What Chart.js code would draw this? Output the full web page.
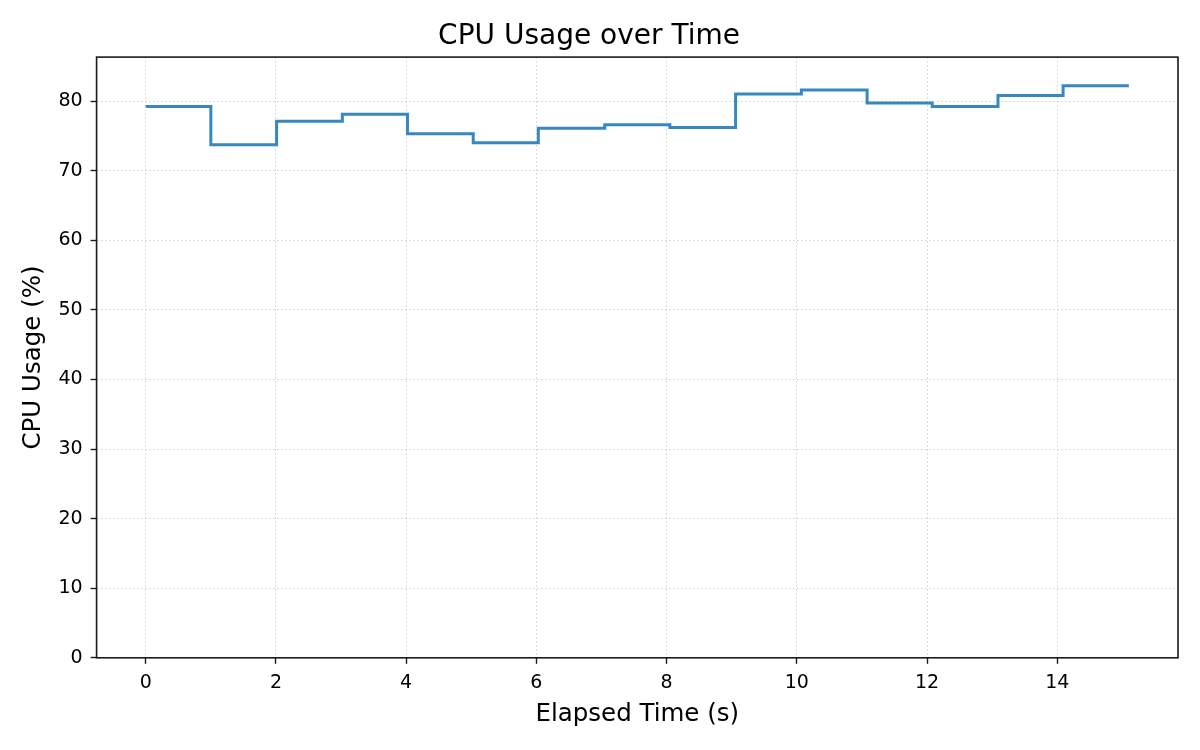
<!doctype html>
<html lang="en">

<head>
    <meta charset="utf-8">
    <title>CPU Usage over Time</title>
    <script src="https://cdn.jsdelivr.net/npm/chart.js"></script>
    <style>
        html, body { margin: 0; padding: 0; background: #fff; }
        canvas { display: block; }
    </style>
</head>

<body>
    <canvas id="cpuChart" width="1200" height="750"></canvas>

    <script>
        // elapsed time (s) and cpu usage (%)
        const times = [0, 1.00, 2.01, 3.02, 4.02, 5.03, 6.03, 7.05, 8.05, 9.06, 10.07, 11.08, 12.08, 13.09, 14.09, 15.10];
        const cpu = [79.2, 73.7, 77.1, 78.1, 75.3, 74.0, 76.1, 76.6, 76.2, 81.0, 81.6, 79.7, 79.2, 80.8, 82.2, 82.2];

        const xTicks = [0, 2, 4, 6, 8, 10, 12, 14];
        const yTicks = [0, 10, 20, 30, 40, 50, 60, 70, 80];

        const font = 'DejaVu Sans';

        // matplotlib-style frame round the plot area
        const frame = {
            id: 'frame',
            afterDraw(chart) {
                const { ctx, chartArea: a } = chart;
                ctx.save();
                ctx.strokeStyle = '#1a1a1a';
                ctx.lineWidth = 1.6;
                ctx.strokeRect(a.left, a.top, a.right - a.left, a.bottom - a.top);
                ctx.restore();
            }
        };

        const axisCommon = {
            type: 'linear',
            grid: {
                color: '#d0d0d0',
                lineWidth: 1,
                tickColor: '#1a1a1a',
                tickWidth: 1.4,
                tickLength: 6
            },
            border: { display: false, dash: [1.5, 2.5] },
            ticks: { color: '#000', font: { family: font, size: 19 } }
        };

        const config = {
            type: 'line',
            data: {
                datasets: [{
                    label: 'CPU Usage',
                    data: times.map((t, i) => ({ x: t, y: cpu[i] })),
                    borderColor: '#3787c0',
                    borderWidth: 3,
                    pointRadius: 0,
                    fill: false,
                    stepped: 'before'
                }]
            },
            options: {
                responsive: false,
                animation: false,
                devicePixelRatio: 1,
                layout: { padding: { left: 0, right: 22, top: 0, bottom: 17 } },
                plugins: {
                    legend: { display: false },
                    tooltip: { enabled: false },
                    title: {
                        display: true,
                        text: 'CPU Usage over Time',
                        color: '#000',
                        font: { family: font, size: 28, weight: 'normal' },
                        padding: { top: 20, bottom: 3.5 }
                    }
                },
                scales: {
                    x: {
                        ...axisCommon,
                        min: -0.755,
                        max: 15.855,
                        afterBuildTicks: s => { s.ticks = xTicks.map(v => ({ value: v })); },
                        ticks: { ...axisCommon.ticks, padding: 8, maxRotation: 0 },
                        title: {
                            display: true,
                            text: 'Elapsed Time (s)',
                            color: '#000',
                            font: { family: font, size: 24.5 },
                            padding: { top: -3, bottom: 4 }
                        }
                    },
                    y: {
                        ...axisCommon,
                        min: 0,
                        max: 86.31,
                        afterBuildTicks: s => { s.ticks = yTicks.map(v => ({ value: v })); },
                        ticks: { ...axisCommon.ticks, padding: 8 },
                        title: {
                            display: true,
                            text: 'CPU Usage (%)',
                            color: '#000',
                            font: { family: font, size: 24.5 },
                            padding: { top: 19, bottom: 2 }
                        }
                    }
                }
            },
            plugins: [frame]
        };

        new Chart(document.getElementById('cpuChart'), config);
    </script>
</body>

</html>
